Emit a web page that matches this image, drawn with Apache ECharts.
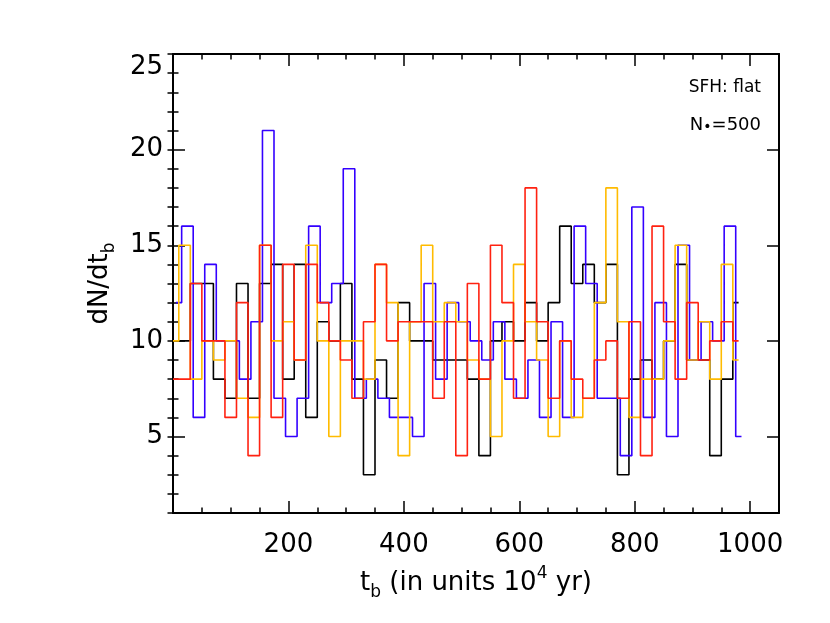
<!DOCTYPE html>
<html><head><meta charset="utf-8">
<script src="https://cdn.jsdelivr.net/npm/echarts@6/dist/echarts.min.js"></script>
<style>html,body{margin:0;padding:0;background:#fff}#c{width:830px;height:623px}</style>
</head><body><div id="c"></div>
<script>
// histogram bins (units of 10^4 yr)
const binWidth = 20;
const nBins = 50;
const tbCenters = Array.from({length: nBins}, (_, k) => k * binWidth);
const blueShift = 5;

const blackCounts  = [10,10,13,13,8,7,13,7,13,14, 8,14,6,11,10,13,8,3,9,7, 12,10,10,9,9,9,8,4,10,11, 10,12,10,12,16,13,14,12,14,3, 8,9,8,10,14,9,9,4,8,12];
const blueCounts   = [12,16,6,14,10,10,8,11,21,7, 5,7,16,12,13,19,7,8,7,6, 6,5,13,8,12,11,10,9,11,8, 7,9,6,11,6,16,13,7,7,4, 17,6,12,5,15,9,11,10,16,5];
const orangeCounts = [10,15,8,10,9,10,7,6,15,10, 11,9,15,10,5,10,10,8,14,12, 4,11,15,11,12,11,9,8,5,10, 14,11,9,5,10,6,7,12,18,11, 6,8,8,10,15,9,11,8,14,9];
const redCounts    = [8,8,13,10,10,6,12,4,15,6, 14,9,14,12,10,9,7,11,14,10, 11,11,11,7,11,4,13,8,15,12, 7,18,11,7,10,8,7,9,10,7, 11,4,16,11,8,12,9,10,11,10];

const xMajorTicks = [200, 400, 600, 800, 1000];
const yMajorTicks = [5, 10, 15, 20, 25];

const FONT = 'DejaVu Sans';
const AX = {color: '#000', width: 2};

function pairs(vals, shift) { return vals.map((v, k) => [tbCenters[k] + shift, v]); }

const chart = echarts.init(document.getElementById('c'), null, {renderer: 'canvas'});
const majX = (pos, labels) => ({
  gridIndex: 0, type: 'value', position: pos, min: 0, max: 1050,
  axisLine: {show: true, onZero: false, lineStyle: AX},
  axisTick: {show: true, inside: true, length: 12, customValues: xMajorTicks, lineStyle: {color: '#000', width: 1.5}},
  axisLabel: {show: labels, customValues: xMajorTicks, margin: 19, fontSize: 26, fontFamily: FONT, color: '#000', formatter: v => String(v)},
  splitLine: {show: false}
});
const minX = (pos) => ({
  gridIndex: 1, type: 'value', position: pos, min: 0, max: 1050, interval: 50,
  axisLine: {show: false}, axisLabel: {show: false}, splitLine: {show: false},
  axisTick: {show: true, inside: true, length: 5.5, lineStyle: {color: '#000', width: 1.5}}
});
const majY = (pos, labels) => ({
  gridIndex: 0, type: 'value', position: pos, min: 1, max: 25,
  axisLine: {show: true, onZero: false, lineStyle: AX},
  axisTick: {show: true, inside: true, length: 12, customValues: yMajorTicks, lineStyle: {color: '#000', width: 1.5}},
  axisLabel: {show: labels, customValues: yMajorTicks, margin: 10, fontSize: 26, fontFamily: FONT, color: '#000', verticalAlignMaxLabel: 'top', formatter: v => String(v)},
  splitLine: {show: false}
});
const minY = (pos) => ({
  gridIndex: 1, type: 'value', position: pos, min: 1, max: 25, interval: 1,
  axisLine: {show: false}, axisLabel: {show: false}, splitLine: {show: false},
  axisTick: {show: true, inside: true, length: 5.5, lineStyle: {color: '#000', width: 1.5}}
});

const xBottom = majX('bottom', true);
xBottom.name = 't{s|b} (in units 10{p|4} yr)';
xBottom.nameLocation = 'middle';
xBottom.nameGap = 52;
xBottom.nameTextStyle = {fontSize: 26, fontFamily: FONT, color: '#000', lineHeight: 36,
  rich: {s: {fontSize: 17, fontFamily: FONT, color: '#000', verticalAlign: 'bottom', lineHeight: 17},
         p: {fontSize: 17, fontFamily: FONT, color: '#000', verticalAlign: 'top', lineHeight: 17}}};
const yLeft = majY('left', true);
yLeft.name = 'dN/dt{s|b}';
yLeft.nameLocation = 'middle';
yLeft.nameRotate = 90;
yLeft.nameGap = 55;
yLeft.nameTextStyle = {fontSize: 26, fontFamily: FONT, color: '#000', lineHeight: 36,
  rich: {s: {fontSize: 17, fontFamily: FONT, color: '#000', verticalAlign: 'bottom', lineHeight: 17}}};

const gridRect = {left: 173, right: 51, top: 54, bottom: 110, containLabel: false};
const mk = (name, vals, color, shift) => ({
  name, type: 'line', step: 'middle', data: pairs(vals, shift), showSymbol: false, symbol: 'none',
  xAxisIndex: 0, yAxisIndex: 0, lineStyle: {color, width: 1.6}, itemStyle: {color}, clip: true, silent: true
});

chart.setOption({
  animation: false,
  backgroundColor: '#fff',
  grid: [Object.assign({}, gridRect), Object.assign({}, gridRect)],
  xAxis: [xBottom, majX('top', false), minX('bottom'), minX('top')],
  yAxis: [yLeft, majY('right', false), minY('left'), minY('right')],
  series: [
    mk('black', blackCounts, '#000000', 0),
    mk('blue', blueCounts, '#3300ff', blueShift),
    mk('orange', orangeCounts, '#ffbb00', 0),
    mk('red', redCounts, '#ff2211', 0)
  ],
  graphic: [
    {type: 'text', x: 761, y: 88, style: {text: 'SFH: flat', fontSize: 17, fontFamily: FONT, fill: '#000', textAlign: 'right', textVerticalAlign: 'middle'}},
    {type: 'text', x: 761, y: 125, style: {text: 'N{s|•}=500', fontSize: 18, fontFamily: FONT, fill: '#000', textAlign: 'right', textVerticalAlign: 'middle',
      rich: {s: {fontSize: 14, fontFamily: FONT, fill: '#000', verticalAlign: 'bottom', lineHeight: 14, padding: [8, 0, 0, 0]}}}}
  ]
});
</script></body></html>
